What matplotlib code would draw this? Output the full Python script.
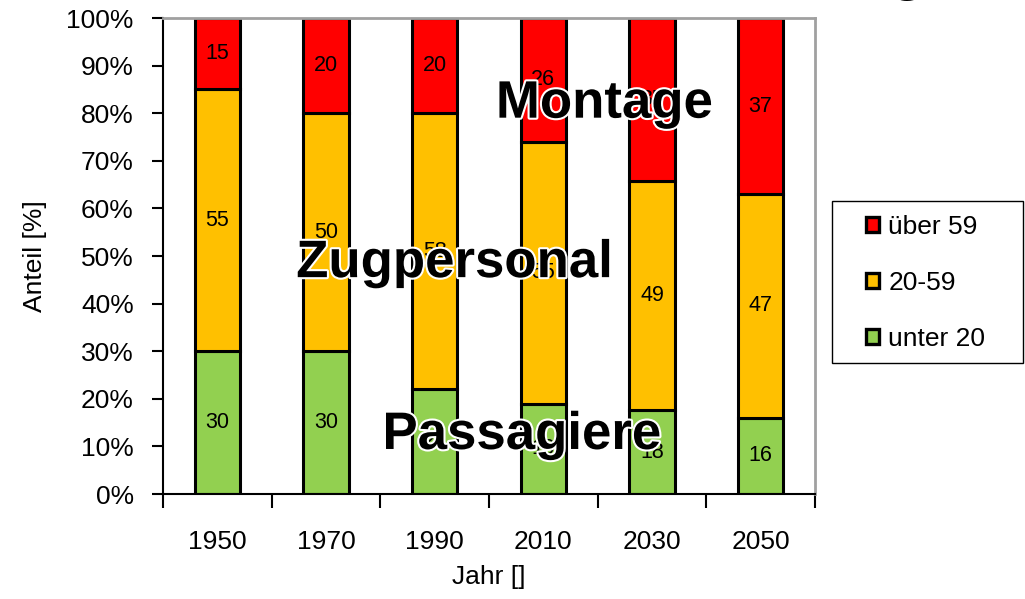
import matplotlib
matplotlib.use("Agg")
import matplotlib.pyplot as plt
import matplotlib.patheffects as pe
from matplotlib.patches import Patch, Rectangle
from matplotlib.ticker import FixedLocator, PercentFormatter
import numpy as np

plt.rcParams['font.family'] = ['Liberation Sans', 'DejaVu Sans']

years = ['1950', '1970', '1990', '2010', '2030', '2050']
unter_20 = [30, 30, 22, 19, 18, 16]
mitte_20_59 = [55, 50, 58, 55, 49, 47]
ueber_59 = [15, 20, 20, 26, 35, 37]

series = [('unter 20', unter_20, '#92D050'),
          ('20-59', mitte_20_59, '#FFC000'),
          ('über 59', ueber_59, '#FF0000')]

W, H = 1025, 599
fig = plt.figure(figsize=(W / 100, H / 100), dpi=100)
ax = fig.add_axes([163 / W, 1 - 494 / H, (815 - 163) / W, (494 - 18) / H])

x = np.arange(len(years))
totals = np.array(unter_20) + np.array(mitte_20_59) + np.array(ueber_59)
bottom = np.zeros(len(years))
for name, vals, col in series:
    share = np.array(vals) / totals * 100
    ax.bar(x, share, 0.42, bottom=bottom, color=col, edgecolor='black',
           linewidth=2.2, label=name, zorder=2)
    for xi, b, s, v in zip(x, bottom, share, vals):
        ax.text(xi, b + s / 2, str(v), ha='center', va='center', fontsize=15.5, zorder=3)
    bottom += share

ax.set_xlim(-0.5, len(years) - 0.5)
ax.set_ylim(0, 100)
ax.yaxis.set_major_locator(FixedLocator(np.arange(0, 101, 10)))
ax.yaxis.set_major_formatter(PercentFormatter(decimals=0))
ax.tick_params(axis='y', direction='out', length=8, width=1.5, pad=13, labelsize=19)

ax.set_xticks(x)
ax.set_xticklabels(years)
ax.xaxis.set_minor_locator(FixedLocator(np.arange(-0.5, len(years), 1)))
ax.tick_params(axis='x', which='major', length=0, pad=26, labelsize=19)
ax.tick_params(axis='x', which='minor', direction='out', length=10, width=1.5)

for side in ['left', 'bottom']:
    ax.spines[side].set_color('black')
    ax.spines[side].set_linewidth(1.5)
for side in ['top', 'right']:
    ax.spines[side].set_color('#a0a0a0')
    ax.spines[side].set_linewidth(2)

ax.set_xlabel('Jahr []', fontsize=19, labelpad=8)
ax.set_ylabel('Anteil [%]', fontsize=19, labelpad=14)

outline = [pe.withStroke(linewidth=3, foreground='white')]
overlay = [('Montage', 3.56, 82.0), ('Zugpersonal', 2.18, 48.5), ('Passagiere', 2.8, 12.4)]
for txt, ox, oy in overlay:
    ax.text(ox, oy, txt, ha='center', va='center', fontsize=38, fontweight='bold',
            path_effects=outline, zorder=5)

# legend frame drawn separately so the inner padding can differ per side
fig.patches.append(Rectangle((832 / W, 1 - 363 / H), (1023 - 832) / W, (363 - 201) / H,
                             transform=fig.transFigure, facecolor='white',
                             edgecolor='black', linewidth=1))
handles = [Patch(facecolor=col, edgecolor='black', linewidth=2.4, label=name)
           for name, vals, col in reversed(series)]
fig.legend(handles=handles, loc='center left',
           bbox_to_anchor=(866 / W, 1 - 283 / H), fontsize=19, frameon=False,
           handlelength=0.5, handleheight=0.5, handletextpad=0.35,
           labelspacing=1.2, borderpad=0, borderaxespad=0)

# cut-off title at the top edge
fig.text(907 / W, 1 + 11 / H, 'g', ha='center', va='baseline',
         fontsize=42, fontweight='bold')

fig.savefig('out.png', dpi=100)
